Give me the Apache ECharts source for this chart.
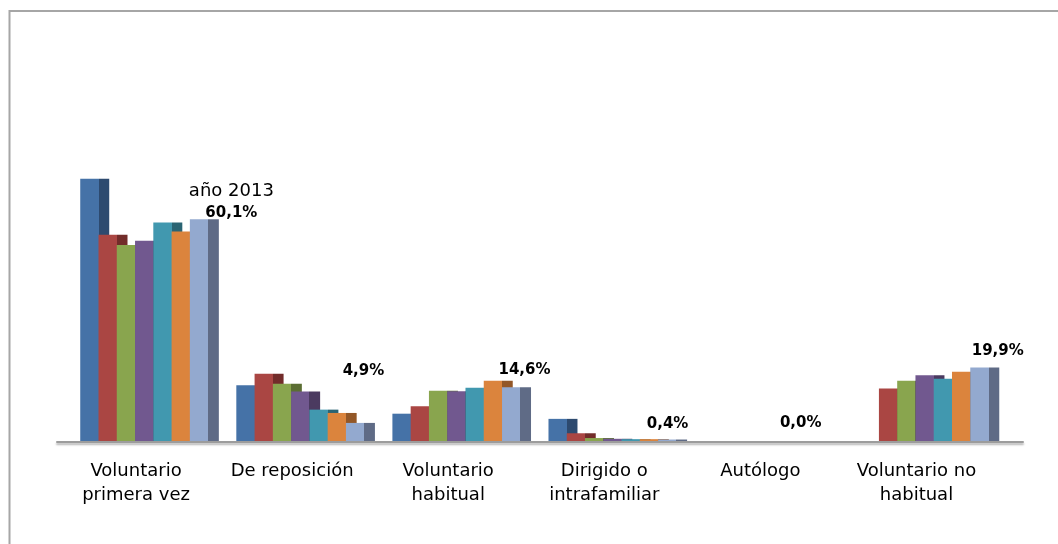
<!DOCTYPE html>
<html>
<head>
<meta charset="utf-8">
<script src="https://cdn.jsdelivr.net/npm/echarts@6/dist/echarts.min.js"></script>
<style>
html,body{margin:0;padding:0;background:#fff;}
#c{width:1058px;height:544px;}
</style>
</head>
<body>
<div id="c"></div>
<script>
const categories = ['Voluntario\nprimera vez', 'De reposición', 'Voluntario\nhabitual', 'Dirigido o\nintrafamiliar', 'Autólogo', 'Voluntario no\nhabitual'];
const years = ['2007', '2008', '2009', '2010', '2011', '2012', '2013'];
const v2007 = [71.1, 15.1, 7.4, 6.0, 0, null];
const v2008 = [55.9, 18.2, 9.4, 2.1, 0, 14.2];
const v2009 = [53.1, 15.5, 13.6, 0.8, 0, 16.3];
const v2010 = [54.3, 13.4, 13.5, 0.6, 0, 17.8];
const v2011 = [59.2, 8.5, 14.4, 0.5, 0, 16.9];
const v2012 = [56.8, 7.6, 16.3, 0.5, 0, 18.8];
const v2013 = [60.1, 4.9, 14.6, 0.4, 0.0, 19.9];
const yearNote = 'año 2013';

const seriesValues = [v2007, v2008, v2009, v2010, v2011, v2012, v2013];
const mainColors = ['#4572A7', '#AA4643', '#89A54E', '#71588F', '#4198AF', '#DB843D', '#93A9CF'];
const darkColors = ['#2D4A6F', '#722C2A', '#5B6E33', '#4B3A60', '#2A6473', '#935727', '#5F6B86'];
const labelOffsets = [[27, -17], [3, -52], [8, -17], [-5, -15], [-28, -18], [13, -16]];
const FONT = 'DejaVu Sans';

function fmt(v) { return v.toFixed(1).replace('.', ',') + '%'; }

const series = seriesValues.map((vals, si) => {
  const isLast = si === seriesValues.length - 1;
  const grad = new echarts.graphic.LinearGradient(0, 0, 1, 0, [
    { offset: 0, color: mainColors[si] },
    { offset: 0.63, color: mainColors[si] },
    { offset: 0.63, color: darkColors[si] },
    { offset: 1, color: darkColors[si] }
  ]);
  return {
    name: years[si],
    type: 'bar',
    xAxisIndex: 0,
    yAxisIndex: 0,
    barWidth: 29,
    barGap: '-37%',
    itemStyle: { color: grad },
    data: vals.map((v, i) => {
      const d = { value: v };
      if (isLast) {
        d.label = { offset: labelOffsets[i] };
      }
      return d;
    }),
    label: isLast ? {
      show: true,
      position: 'top',
      distance: 0,
      verticalAlign: 'middle',
      formatter: p => (p.dataIndex === 0 ? '{a|' + yearNote + '}\n' : '') + '{b|' + fmt(p.value) + '}',
      rich: {
        a: { fontFamily: FONT, fontSize: 18, fontWeight: 'normal', color: '#000', lineHeight: 21 },
        b: { fontFamily: FONT, fontSize: 15, fontWeight: 'bold', color: '#000', lineHeight: 21 }
      }
    } : { show: false },
    emphasis: { disabled: true }
  };
});

const chart = echarts.init(document.getElementById('c'), null, { renderer: 'canvas' });
chart.setOption({
  animation: false,
  backgroundColor: '#fff',
  graphic: [{
    type: 'rect',
    shape: { x: 9.5, y: 11, width: 1100, height: 600 },
    style: { fill: 'none', stroke: '#a6a6a6', lineWidth: 2 },
    silent: true,
    z: -10
  }],
  grid: [
    { left: 71.5, right: 50, top: 145.8, bottom: 103 },
    { left: 57, right: 35, top: 145.8, bottom: 102 }
  ],
  xAxis: [
    {
      type: 'category',
      gridIndex: 0,
      data: categories,
      axisLine: { show: false },
      axisTick: { show: false },
      axisLabel: {
        interval: 0,
        margin: 19,
        fontFamily: FONT,
        fontSize: 18,
        color: '#000',
        lineHeight: 23.5,
        padding: [0, 27, 0, 0]
      }
    },
    {
      type: 'value',
      gridIndex: 1,
      min: 0, max: 1,
      axisLine: { show: true, onZero: false, lineStyle: { color: '#9c9c9c', width: 2, shadowColor: 'rgba(0,0,0,0.3)', shadowOffsetY: 2, shadowBlur: 2 } },
      axisTick: { show: false },
      axisLabel: { show: false },
      splitLine: { show: false }
    }
  ],
  yAxis: [
    { type: 'value', gridIndex: 0, min: 0, max: 80, show: false, splitLine: { show: false } },
    { type: 'value', gridIndex: 1, min: 0, max: 1, show: false, splitLine: { show: false } }
  ],
  series: series
});
</script>
</body>
</html>
